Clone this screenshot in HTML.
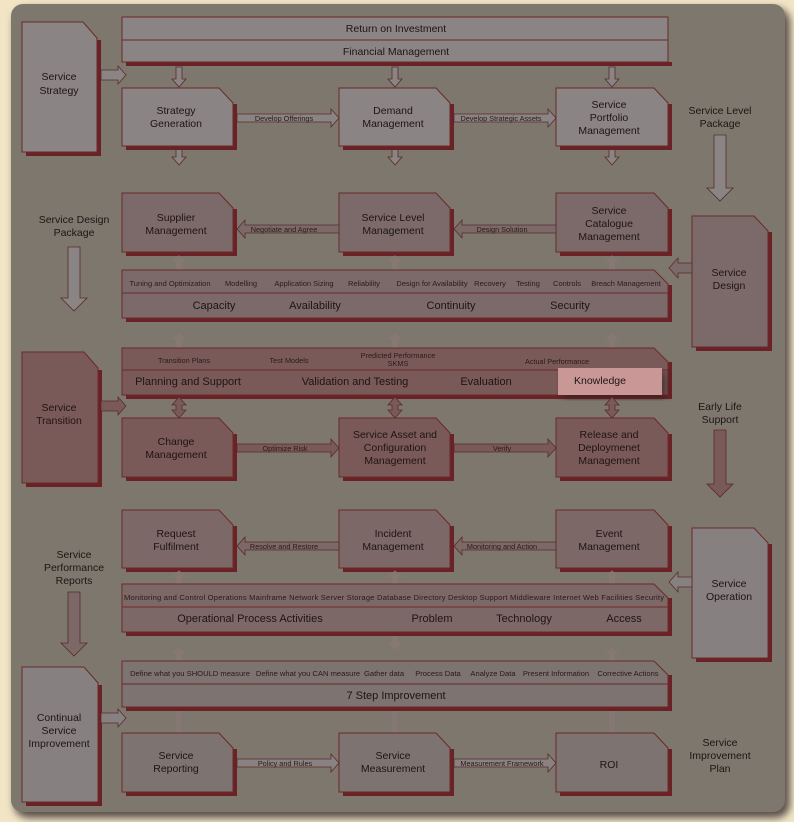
<!DOCTYPE html>
<html><head><meta charset="utf-8"><style>
html,body{margin:0;padding:0;background:#f2e5c6;}
svg{display:block;font-family:"Liberation Sans",sans-serif;}
.t{font-size:10.5px;fill:#1e1414;text-anchor:middle}
.s{font-size:7.3px;fill:#2a1a1a;text-anchor:middle}
.m{font-size:11px;fill:#1e1414;text-anchor:middle}
.sh{fill:#6b2226}
.ar{stroke:#5a2a2a;stroke-width:0.8}
</style></head><body>
<svg width="794" height="822" viewBox="0 0 794 822">
<defs><filter id="f" x="-5%" y="-5%" width="110%" height="110%"><feGaussianBlur stdDeviation="4"/></filter></defs>
<rect x="14" y="8" width="776" height="810" rx="14" fill="#5a5048" filter="url(#f)"/>
<rect x="11" y="4" width="774" height="808" rx="12" fill="#7e776d"/>

<!-- ===== STRATEGY ===== -->
<g>
<path class="sh" d="M26 40V156H101V40Z"/>
<path d="M22 22H83L97 38V152H22Z" fill="#8a8484" stroke="#6b2a2a"/>
<text class="t" x="59" y="80">Service</text><text class="t" x="59" y="94">Strategy</text>
<rect class="sh" x="126" y="62" width="546" height="4"/>
<rect x="122" y="17" width="546" height="45" fill="#8a8484" stroke="#6b2a2a"/>
<line x1="122" y1="40" x2="668" y2="40" stroke="#6b2a2a"/>
<text class="t" x="396" y="32">Return on Investment</text>
<text class="t" x="396" y="55">Financial Management</text>
<polygon class="ar" fill="#8a8484" points="101,70 118,70 118,66 126,75 118,84 118,80 101,80"/>
<g fill="#8a8484" class="ar">
<polygon points="176,67 182,67 182,79 186,79 179,87 172,79 176,79"/>
<polygon points="392,67 398,67 398,79 402,79 395,87 388,79 392,79"/>
<polygon points="609,67 615,67 615,79 619,79 612,87 605,79 609,79"/>
<polygon points="176,148 182,148 182,157 186,157 179,165 172,157 176,157"/>
<polygon points="392,148 398,148 398,157 402,157 395,165 388,157 392,157"/>
<polygon points="609,148 615,148 615,157 619,157 612,165 605,157 609,157"/>
</g>
<path class="sh" d="M126 104V150H237V104Z"/><path d="M122 88H219L233 103V146H122Z" fill="#8a8484" stroke="#6b2a2a"/>
<path class="sh" d="M343 104V150H454V104Z"/><path d="M339 88H436L450 103V146H339Z" fill="#8a8484" stroke="#6b2a2a"/>
<path class="sh" d="M560 104V150H672V104Z"/><path d="M556 88H654L668 103V146H556Z" fill="#8a8484" stroke="#6b2a2a"/>
<text class="t" x="176" y="114">Strategy</text><text class="t" x="176" y="127">Generation</text>
<text class="t" x="393" y="114">Demand</text><text class="t" x="393" y="127">Management</text>
<text class="t" x="609" y="108">Service</text><text class="t" x="609" y="121">Portfolio</text><text class="t" x="609" y="134">Management</text>
<polygon class="ar" fill="#8a8484" points="237,114 331,114 331,109 339,118 331,127 331,122 237,122"/>
<polygon class="ar" fill="#8a8484" points="454,114 548,114 548,109 556,118 548,127 548,122 454,122"/>
<text class="s" x="284" y="121">Develop Offerings</text>
<text class="s" x="501" y="121">Develop Strategic Assets</text>
</g>

<text class="t" x="720" y="114">Service Level</text><text class="t" x="720" y="127">Package</text>
<polygon fill="#8a8484" class="ar" points="714,135 726,135 726,188 733,188 720,201 707,188 714,188"/>
<text class="t" x="74" y="223">Service Design</text><text class="t" x="74" y="236">Package</text>
<polygon fill="#8a8484" class="ar" points="68,247 80,247 80,298 87,298 74,311 61,298 68,298"/>

<!-- ===== DESIGN ===== -->
<g>
<path class="sh" d="M126 209V256H237V209Z"/><path d="M122 193H219L233 208V252H122Z" fill="#7b6a69" stroke="#6b2a2a"/>
<path class="sh" d="M343 209V256H454V209Z"/><path d="M339 193H436L450 208V252H339Z" fill="#7b6a69" stroke="#6b2a2a"/>
<path class="sh" d="M560 209V256H672V209Z"/><path d="M556 193H654L668 208V252H556Z" fill="#7b6a69" stroke="#6b2a2a"/>
<text class="t" x="176" y="221">Supplier</text><text class="t" x="176" y="234">Management</text>
<text class="t" x="393" y="221">Service Level</text><text class="t" x="393" y="234">Management</text>
<text class="t" x="609" y="214">Service</text><text class="t" x="609" y="227">Catalogue</text><text class="t" x="609" y="240">Management</text>
<polygon class="ar" fill="#7b6a69" points="339,225 245,225 245,220 237,229 245,238 245,233 339,233"/>
<polygon class="ar" fill="#7b6a69" points="556,225 462,225 462,220 454,229 462,238 462,233 556,233"/>
<text class="s" x="284" y="232">Negotiate and Agree</text>
<text class="s" x="502" y="232">Design Solution</text>
<g fill="#8a7a78" opacity="0.7">
<polygon points="176,270 182,270 182,262 186,262 179,255 172,262 176,262"/>
<polygon points="392,270 398,270 398,262 402,262 395,255 388,262 392,262"/>
<polygon points="609,270 615,270 615,262 619,262 612,255 605,262 609,262"/>
<polygon points="176,348 182,348 182,340 186,340 179,333 172,340 176,340"/>
<polygon points="392,348 398,348 398,340 402,340 395,333 388,340 392,340"/>
<polygon points="609,348 615,348 615,340 619,340 612,333 605,340 609,340"/>
</g>
<path class="sh" d="M126 285V322H672V285Z"/>
<path d="M122 270H654L668 284V318H122Z" fill="#7b6a69" stroke="#6b2a2a"/>
<line x1="122" y1="293" x2="668" y2="293" stroke="#6b2a2a"/>
<g class="s" style="font-size:7.5px">
<text x="170" y="286">Tuning and Optimization</text><text x="241" y="286">Modelling</text><text x="304" y="286">Application Sizing</text>
<text x="364" y="286">Reliability</text><text x="432" y="286">Design for Availability</text><text x="490" y="286">Recovery</text>
<text x="528" y="286">Testing</text><text x="567" y="286">Controls</text><text x="626" y="286">Breach Management</text></g>
<text class="m" x="214" y="309">Capacity</text><text class="m" x="315" y="309">Availability</text>
<text class="m" x="451" y="309">Continuity</text><text class="m" x="570" y="309">Security</text>
<path class="sh" d="M696 232V351H772V232Z"/>
<path d="M692 216H754L768 231V347H692Z" fill="#7b6a69" stroke="#6b2a2a"/>
<text class="t" x="729" y="276">Service</text><text class="t" x="729" y="289">Design</text>
<polygon class="ar" fill="#7b6a69" points="692,263 678,263 678,258 669,268 678,278 678,273 692,273"/>
</g>

<!-- ===== TRANSITION ===== -->
<g>
<path class="sh" d="M26 370V487H102V370Z"/>
<path d="M22 352H84L98 368V483H22Z" fill="#7a5a58" stroke="#6b2a2a"/>
<text class="t" x="59" y="411">Service</text><text class="t" x="59" y="424">Transition</text>
<path class="sh" d="M126 362V399H672V362Z"/>
<path d="M122 348H654L668 362V395H122Z" fill="#7a5a58" stroke="#6b2a2a"/>
<line x1="122" y1="370" x2="668" y2="370" stroke="#6b2a2a"/>
<text class="s" x="184" y="363">Transition Plans</text><text class="s" x="289" y="363">Test Models</text>
<text class="s" x="398" y="358">Predicted Performance</text><text class="s" x="398" y="366">SKMS</text>
<text class="s" x="557" y="364">Actual Performance</text>
<text class="m" x="188" y="385">Planning and Support</text><text class="m" x="355" y="385">Validation and Testing</text>
<text class="m" x="486" y="385">Evaluation</text>
<rect x="562" y="372" width="104" height="27" fill="#2a1c1c" opacity="0.6" filter="url(#f)"/>
<rect x="558" y="368" width="104" height="27" fill="#c99896"/>
<text x="574" y="384" style="font-size:10.5px;fill:#1e1414">Knowledge</text>
<polygon class="ar" fill="#7a5a58" points="101,401 118,401 118,397 126,406 118,415 118,411 101,411"/>
<g fill="#7a5a58" class="ar">
<polygon points="176,405 172,405 179,397 186,405 182,405 182,410 186,410 179,418 172,410 176,410"/>
<polygon points="392,405 388,405 395,397 402,405 398,405 398,410 402,410 395,418 388,410 392,410"/>
<polygon points="609,405 605,405 612,397 619,405 615,405 615,410 619,410 612,418 605,410 609,410"/>
</g>
<path class="sh" d="M126 434V481H237V434Z"/><path d="M122 418H219L233 433V477H122Z" fill="#7a5a58" stroke="#6b2a2a"/>
<path class="sh" d="M343 434V481H454V434Z"/><path d="M339 418H436L450 433V477H339Z" fill="#7a5a58" stroke="#6b2a2a"/>
<path class="sh" d="M560 434V481H672V434Z"/><path d="M556 418H654L668 433V477H556Z" fill="#7a5a58" stroke="#6b2a2a"/>
<text class="t" x="176" y="445">Change</text><text class="t" x="176" y="458">Management</text>
<text class="t" x="395" y="438">Service Asset and</text><text class="t" x="395" y="451">Configuration</text><text class="t" x="395" y="464">Management</text>
<text class="t" x="609" y="438">Release and</text><text class="t" x="609" y="451">Deploymenet</text><text class="t" x="609" y="464">Management</text>
<polygon class="ar" fill="#7a5a58" points="237,444 331,444 331,439 339,448 331,457 331,452 237,452"/>
<polygon class="ar" fill="#7a5a58" points="454,444 548,444 548,439 556,448 548,457 548,452 454,452"/>
<text class="s" x="285" y="451">Optimize Risk</text><text class="s" x="502" y="451">Verify</text>
</g>
<text class="t" x="720" y="410">Early Life</text><text class="t" x="720" y="423">Support</text>
<polygon fill="#7a5a58" class="ar" points="714,430 726,430 726,484 733,484 720,497 707,484 714,484"/>

<!-- ===== OPERATION ===== -->
<g>
<path class="sh" d="M126 526V572H237V526Z"/><path d="M122 510H219L233 525V568H122Z" fill="#7c6867" stroke="#6b2a2a"/>
<path class="sh" d="M343 526V572H454V526Z"/><path d="M339 510H436L450 525V568H339Z" fill="#7c6867" stroke="#6b2a2a"/>
<path class="sh" d="M560 526V572H672V526Z"/><path d="M556 510H654L668 525V568H556Z" fill="#7c6867" stroke="#6b2a2a"/>
<text class="t" x="176" y="537">Request</text><text class="t" x="176" y="550">Fulfilment</text>
<text class="t" x="393" y="537">Incident</text><text class="t" x="393" y="550">Management</text>
<text class="t" x="609" y="537">Event</text><text class="t" x="609" y="550">Management</text>
<polygon class="ar" fill="#7c6867" points="339,542 245,542 245,537 237,546 245,555 245,550 339,550"/>
<polygon class="ar" fill="#7c6867" points="556,542 462,542 462,537 454,546 462,555 462,550 556,550"/>
<text class="s" x="284" y="549">Resolve and Restore</text><text class="s" x="502" y="549">Monitoring and Action</text>
<g fill="#8a7a78" opacity="0.7">
<polygon points="176,584 182,584 182,577 186,577 179,570 172,577 176,577"/>
<polygon points="392,584 398,584 398,577 402,577 395,570 388,577 392,577"/>
<polygon points="609,584 615,584 615,577 619,577 612,570 605,577 609,577"/>
<polygon points="176,661 182,661 182,654 186,654 179,647 172,654 176,654"/>
<polygon points="392,636 398,636 398,643 402,643 395,650 388,643 392,643"/>
<polygon points="609,661 615,661 615,654 619,654 612,647 605,654 609,654"/>
</g>
<path class="sh" d="M126 598V636H672V598Z"/>
<path d="M122 584H654L668 598V632H122Z" fill="#7c6867" stroke="#6b2a2a"/>
<line x1="122" y1="607" x2="668" y2="607" stroke="#6b2a2a"/>
<text x="124" y="600" textLength="540" lengthAdjust="spacing" style="font-size:7.6px;fill:#2a1a1a">Monitoring and Control  Operations  Mainframe  Network  Server  Storage  Database Directory  Desktop Support  Middleware  Internet  Web Facilities  Security</text>
<text class="m" x="250" y="622">Operational Process Activities</text><text class="m" x="432" y="622">Problem</text>
<text class="m" x="524" y="622">Technology</text><text class="m" x="624" y="622">Access</text>
<path class="sh" d="M696 544V662H772V544Z"/>
<path d="M692 528H754L768 543V658H692Z" fill="#878080" stroke="#6b2a2a"/>
<text class="t" x="729" y="587">Service</text><text class="t" x="729" y="600">Operation</text>
<polygon class="ar" fill="#878080" points="692,577 678,577 678,572 669,582 678,592 678,587 692,587"/>
</g>
<text class="t" x="74" y="558">Service</text><text class="t" x="74" y="571">Performance</text><text class="t" x="74" y="584">Reports</text>
<polygon fill="#7c6867" class="ar" points="68,592 80,592 80,643 87,643 74,656 61,643 68,643"/>

<!-- ===== CSI ===== -->
<g>
<path class="sh" d="M26 685V806H102V685Z"/>
<path d="M22 667H84L98 683V802H22Z" fill="#868080" stroke="#6b2a2a"/>
<text class="t" x="59" y="721">Continual</text><text class="t" x="59" y="734">Service</text><text class="t" x="59" y="747">Improvement</text>
<path class="sh" d="M126 675V711H672V675Z"/>
<path d="M122 661H654L668 675V707H122Z" fill="#7d7370" stroke="#6b2a2a"/>
<line x1="122" y1="684" x2="668" y2="684" stroke="#6b2a2a"/>
<g class="s" style="font-size:7.6px">
<text x="190" y="676">Define what you SHOULD measure</text>
<text x="308" y="676">Define what you CAN measure</text>
<text x="384" y="676">Gather data</text>
<text x="438" y="676">Process Data</text>
<text x="493" y="676">Analyze Data</text>
<text x="556" y="676">Present Information</text>
<text x="628" y="676">Corrective Actions</text></g>
<text class="m" x="396" y="699">7 Step Improvement</text>
<polygon class="ar" fill="#868080" points="101,713 118,713 118,709 126,718 118,727 118,723 101,723"/>
<g fill="#8a7a78" opacity="0.6">
<rect x="176" y="711" width="6" height="22"/><rect x="392" y="711" width="6" height="22"/><rect x="609" y="711" width="6" height="22"/>
</g>
<path class="sh" d="M126 749V796H237V749Z"/><path d="M122 733H219L233 748V792H122Z" fill="#7d7370" stroke="#6b2a2a"/>
<path class="sh" d="M343 749V796H454V749Z"/><path d="M339 733H436L450 748V792H339Z" fill="#7d7370" stroke="#6b2a2a"/>
<path class="sh" d="M560 749V796H672V749Z"/><path d="M556 733H654L668 748V792H556Z" fill="#7d7370" stroke="#6b2a2a"/>
<text class="t" x="176" y="759">Service</text><text class="t" x="176" y="772">Reporting</text>
<text class="t" x="393" y="759">Service</text><text class="t" x="393" y="772">Measurement</text>
<text class="t" x="609" y="768">ROI</text>
<polygon class="ar" fill="#8a8282" points="237,759 331,759 331,754 339,763 331,772 331,767 237,767"/>
<polygon class="ar" fill="#8a8282" points="454,759 548,759 548,754 556,763 548,772 548,767 454,767"/>
<text class="s" x="285" y="766">Policy and Rules</text><text class="s" x="502" y="766">Measurement Framework</text>
</g>
<text class="t" x="720" y="746">Service</text><text class="t" x="720" y="759">Improvement</text><text class="t" x="720" y="772">Plan</text>
</svg>
</body></html>
